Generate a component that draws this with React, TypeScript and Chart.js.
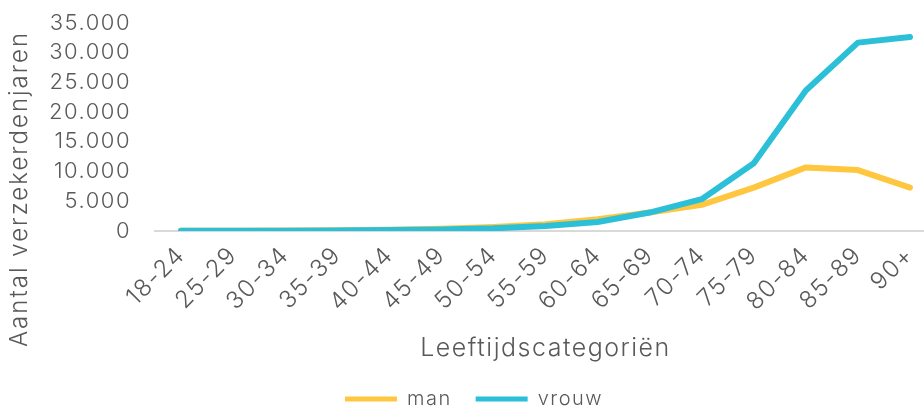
import React, { useEffect, useRef } from 'react';
import { Chart, registerables } from 'chart.js';

Chart.register(...registerables);

const categories = ['18-24', '25-29', '30-34', '35-39', '40-44', '45-49', '50-54', '55-59', '60-64', '65-69', '70-74', '75-79', '80-84', '85-89', '90+'];
const manValues = [30, 40, 80, 120, 220, 380, 680, 1130, 1970, 3100, 4400, 7300, 10700, 10250, 7300];
const vrouwValues = [40, 30, 60, 90, 150, 260, 450, 850, 1520, 3100, 5350, 11400, 23650, 31700, 32650];
const yTickValues = [0, 5000, 10000, 15000, 20000, 25000, 30000, 35000];
const seriesNames = ['man', 'vrouw'];
const yTitle = 'Aantal verzekerdenjaren';
const xTitle = 'Leeftijdscategoriën';

const FONT = "Inter, 'DejaVu Sans', sans-serif";
const WEIGHT = 300;
const TEXT = '#595959';
const MAN = '#FFC73F';
const VROUW = '#2BC0D7';
const W = 953;
const H = 419;
const SPACING = '1.5px';

const fmt = (v: number) => String(v).replace(/\B(?=(\d{3})+(?!\d))/g, '.');

export default function App() {
  const ref = useRef<HTMLCanvasElement>(null);

  useEffect(() => {
    if (!ref.current) return;
    const spacingPlugin = {
      id: 'spacing',
      beforeUpdate(chart: any) {
        chart.ctx.letterSpacing = SPACING;
      },
      beforeLayout(chart: any) {
        chart.ctx.letterSpacing = SPACING;
      },
      beforeDraw(chart: any) {
        chart.ctx.letterSpacing = SPACING;
      },
    };
    const yTitlePlugin = {
      id: 'yTitleText',
      afterDraw(chart: any) {
        const ctx = chart.ctx;
        ctx.save();
        ctx.letterSpacing = '2px';
        ctx.translate(20, 189);
        ctx.rotate(-Math.PI / 2);
        ctx.font = `${WEIGHT} 24px ${FONT}`;
        ctx.fillStyle = TEXT;
        ctx.textAlign = 'center';
        ctx.textBaseline = 'middle';
        ctx.fillText(yTitle, 0, 0);
        ctx.restore();
      },
    };
    const legendShift = {
      id: 'legendShift',
      afterLayout(chart: any) {
        const l = chart.legend;
        if (l) {
          l.left += 6;
          l.right += 6;
        }
      },
    };
    const colors = [MAN, VROUW];
    const chart = new Chart(ref.current, {
      type: 'line',
      data: {
        labels: categories,
        datasets: [
          {
            label: seriesNames[0],
            data: manValues,
            borderColor: MAN,
            backgroundColor: MAN,
            borderWidth: 6,
            pointRadius: 0,
            borderCapStyle: 'round',
            borderJoinStyle: 'round',
            tension: 0,
            order: 1,
          },
          {
            label: seriesNames[1],
            data: vrouwValues,
            borderColor: VROUW,
            backgroundColor: VROUW,
            borderWidth: 6,
            pointRadius: 0,
            borderCapStyle: 'round',
            borderJoinStyle: 'round',
            tension: 0,
            order: 0,
          },
        ],
      },
      options: {
        responsive: false,
        animation: false,
        devicePixelRatio: 1,
        layout: { padding: { top: 23, right: 17, left: 0, bottom: 0 } },
        plugins: {
          tooltip: { enabled: false },
          legend: {
            position: 'bottom',
            labels: {
              boxWidth: 52,
              boxHeight: 5,
              padding: 24,
              useBorderRadius: true,
              borderRadius: 2.5,
              color: TEXT,
              font: { family: FONT, size: 20, weight: WEIGHT },
              generateLabels: () =>
                seriesNames.map((n, i) => ({
                  text: n,
                  fillStyle: colors[i],
                  strokeStyle: colors[i],
                  lineWidth: 0,
                  hidden: false,
                  datasetIndex: i,
                  fontColor: TEXT,
                })),
            },
          },
        },
        scales: {
          x: {
            offset: true,
            grid: { display: false, drawTicks: false },
            border: { display: true, color: '#D9D9D9', width: 2 },
            ticks: {
              color: TEXT,
              font: { family: FONT, size: 24, weight: WEIGHT },
              maxRotation: 45,
              minRotation: 45,
              padding: 10,
              autoSkip: false,
            },
            title: {
              display: true,
              text: xTitle,
              color: TEXT,
              font: { family: FONT, size: 25, weight: WEIGHT },
              padding: { top: 0, bottom: 2 },
            },
            afterFit: (s: any) => {
              s.height = 134;
            },
          },
          y: {
            min: 0,
            max: 35000,
            grid: { display: false, drawTicks: false },
            border: { display: false },
            afterBuildTicks: (s: any) => {
              s.ticks = yTickValues.map((v) => ({ value: v }));
            },
            ticks: {
              color: TEXT,
              font: { family: FONT, size: 22, weight: WEIGHT },
              padding: 24,
              autoSkip: false,
              callback: (v: any) => fmt(Number(v)),
            },
            afterFit: (s: any) => {
              s.width = 155;
              s.paddingTop = 0;
              s.paddingBottom = 0;
            },
          },
        },
      },
      plugins: [spacingPlugin, yTitlePlugin, legendShift],
    } as any);
    return () => chart.destroy();
  }, []);

  return (
    <div style={{ position: 'fixed', left: 0, top: 0, width: W, height: H, overflow: 'hidden', background: '#fff' }}>
      <canvas ref={ref} width={W} height={H} style={{ width: W, height: H, display: 'block' }} />
    </div>
  );
}
